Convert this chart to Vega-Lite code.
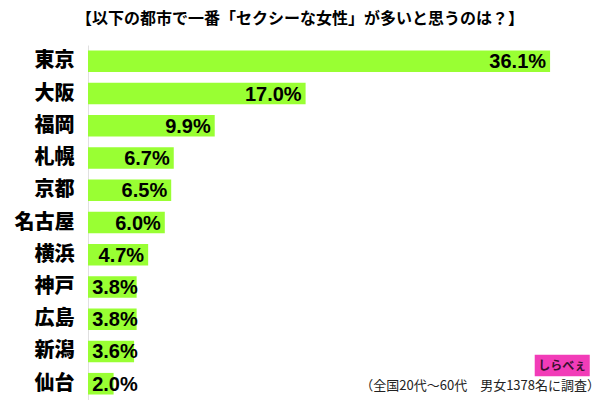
{
  "$schema": "https://vega.github.io/schema/vega-lite/v6.json",
  "width": 512,
  "height": 355,
  "autosize": "none",
  "padding": {"left": 88, "top": 45, "right": 0, "bottom": 0},
  "background": "white",
  "title": {
    "text": "【以下の都市で一番「セクシーな女性」が多いと思うのは？】",
    "font": "Noto Sans CJK JP",
    "fontSize": 16,
    "fontWeight": "bold",
    "color": "#000000",
    "anchor": "middle",
    "dx": -44,
    "offset": 18
  },
  "config": {"view": {"stroke": null}},
  "datasets": {
    "cities": [
      {"city": "東京", "value": 36.1},
      {"city": "大阪", "value": 17.0},
      {"city": "福岡", "value": 9.9},
      {"city": "札幌", "value": 6.7},
      {"city": "京都", "value": 6.5},
      {"city": "名古屋", "value": 6.0},
      {"city": "横浜", "value": 4.7},
      {"city": "神戸", "value": 3.8},
      {"city": "広島", "value": 3.8},
      {"city": "新潟", "value": 3.6},
      {"city": "仙台", "value": 2.0}
    ],
    "note": [{"city": "仙台", "x": 40, "label": "（全国20代～60代　男女1378名に調査）"}],
    "logo": [{"city": "新潟", "x1": 34.9, "x2": 39.2, "label": "しらべぇ"}]
  },
  "layer": [
    {
      "data": {"name": "cities"},
      "mark": {"type": "bar", "color": "#99FF33"},
      "encoding": {
        "y": {
          "field": "city", "type": "nominal", "sort": null,
          "scale": {"paddingInner": 0.33, "paddingOuter": 0.17},
          "axis": {
            "title": null, "ticks": false, "labelPadding": 14,
            "labelFont": "Noto Sans CJK JP", "labelFontSize": 20, "labelFontWeight": 900,
            "labelColor": "#000000", "domainColor": "#e0e0e0", "domainWidth": 1
          }
        },
        "x": {
          "field": "value", "type": "quantitative",
          "scale": {"domain": [0, 40], "nice": false},
          "axis": null
        }
      }
    },
    {
      "data": {"name": "cities"},
      "transform": [
        {"calculate": "max(datum.value, 4.2)", "as": "pos"},
        {"calculate": "format(datum.value, '.1f') + '%'", "as": "label"}
      ],
      "mark": {"type": "text", "align": "right", "baseline": "middle", "dx": -4, "dy": 1,
               "font": "Liberation Sans", "fontSize": 20, "fontWeight": "bold", "color": "#000000"},
      "encoding": {
        "y": {"field": "city", "type": "nominal", "sort": null},
        "x": {"field": "pos", "type": "quantitative"},
        "text": {"field": "label"}
      }
    },
    {
      "data": {"name": "logo"},
      "mark": {"type": "bar", "color": "#F23CB8", "yOffset": 14},
      "encoding": {
        "y": {"field": "city", "type": "nominal", "sort": null},
        "x": {"field": "x1", "type": "quantitative"},
        "x2": {"field": "x2"}
      }
    },
    {
      "data": {"name": "logo"},
      "mark": {"type": "text", "align": "center", "baseline": "middle", "dy": 15,
               "font": "Noto Sans CJK JP", "fontSize": 12, "fontWeight": "bold", "color": "#3a1030"},
      "encoding": {
        "y": {"field": "city", "type": "nominal", "sort": null},
        "x": {"datum": 37.05, "type": "quantitative"},
        "text": {"field": "label"}
      }
    },
    {
      "data": {"name": "note"},
      "mark": {"type": "text", "align": "right", "baseline": "middle", "dy": 2,
               "font": "Noto Sans CJK JP", "fontSize": 13, "color": "#222222"},
      "encoding": {
        "y": {"field": "city", "type": "nominal", "sort": null},
        "x": {"field": "x", "type": "quantitative"},
        "text": {"field": "label"}
      }
    }
  ]
}
